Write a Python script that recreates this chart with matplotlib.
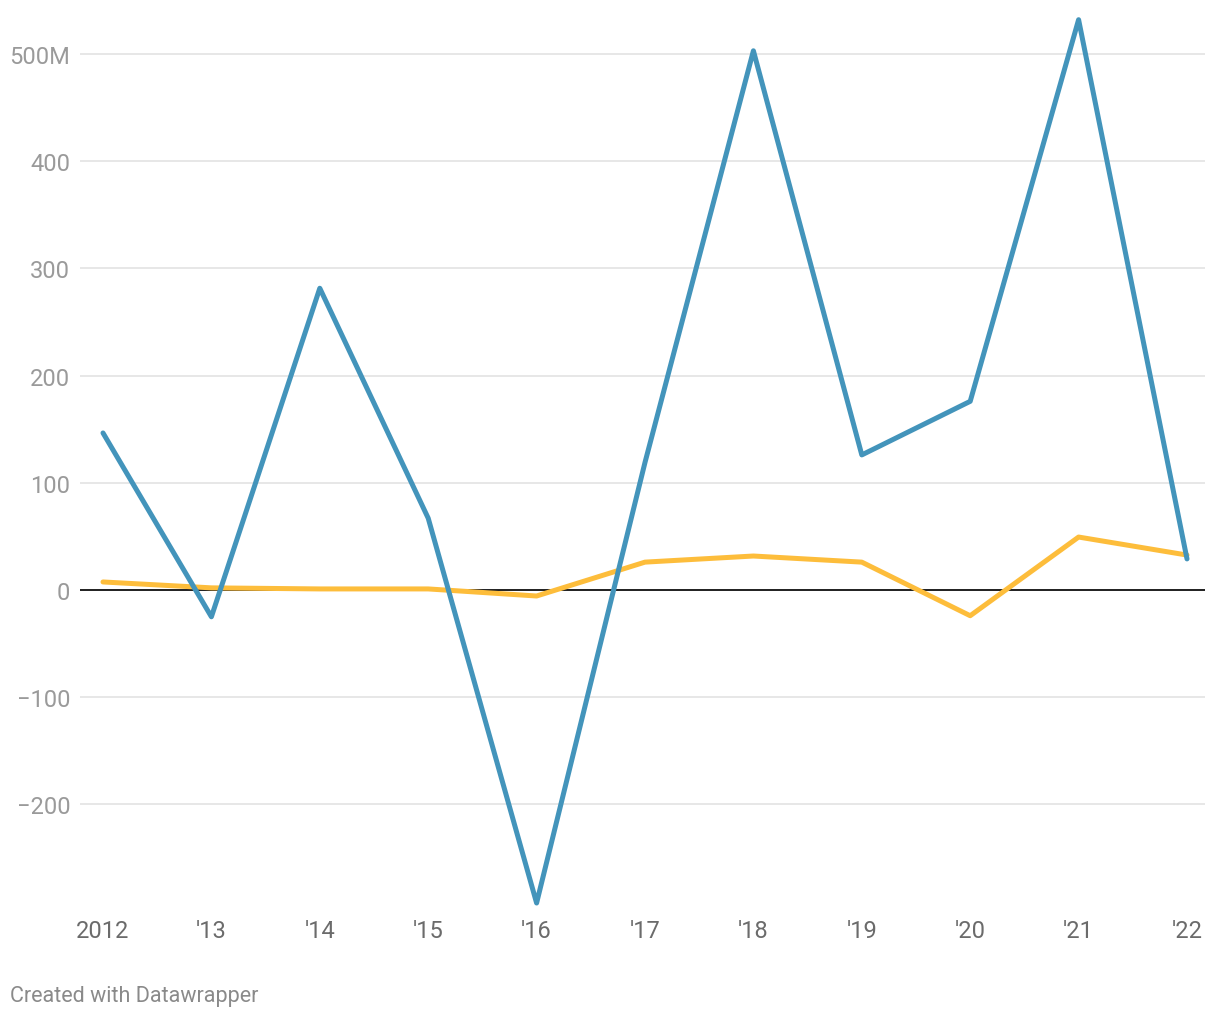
import matplotlib
matplotlib.use("Agg")
import matplotlib.pyplot as plt

years = [2012, 2013, 2014, 2015, 2016, 2017, 2018, 2019, 2020, 2021, 2022]
xlabels = ["2012", "'13", "'14", "'15", "'16", "'17", "'18", "'19", "'20", "'21", "'22"]
blue = [146.5, -25, 281.5, 67, -292, 119, 503, 126, 176, 532, 29]
yellow = [7.5, 2, 1, 1, -5.6, 26, 31.7, 26, -24, 49.4, 32.6]
yticks = [-200, -100, 0, 100, 200, 300, 400, 500]
ylabels = ["\u2212200", "\u2212100", "0", "100", "200", "300", "400", "500M"]

plt.rcParams["font.family"] = ["Roboto", "DejaVu Sans"]
W, H = 1220, 1020
fig = plt.figure(figsize=(W / 100, H / 100), dpi=100)
left, right, top, bottom = 80, 1205, 15, 910
ax = fig.add_axes([left / W, (H - bottom) / H, (right - left) / W, (bottom - top) / H])

ax.set_xlim(2012 - 23 / 108.4, 2022 + 18 / 108.4)
ax.set_ylim(-(bottom - 591) / 1.072, (591 - top) / 1.072)

ax.plot(years, yellow, color="#fdbd3b", lw=3.6, solid_capstyle="round", solid_joinstyle="round", zorder=3)
ax.plot(years, blue, color="#4394bb", lw=3.6, solid_capstyle="round", solid_joinstyle="round", zorder=4)
ax.axhline(0, color="#111111", lw=1.3, zorder=2)

ax.set_yticks(yticks)
ax.set_yticklabels(ylabels)
ax.set_xticks(years)
ax.set_xticklabels(xlabels)
ax.grid(axis="y", color="#e3e3e3", lw=1.2, zorder=0)
ax.grid(axis="x", visible=False)
ax.tick_params(axis="y", length=0, pad=7, labelsize=17, labelcolor="#9a9a9a")
ax.tick_params(axis="x", length=0, pad=7, labelsize=17, labelcolor="#6b6b6b")
for s in ax.spines.values():
    s.set_visible(False)

fig.text(10 / W, 1 - 997 / H, "Created with Datawrapper", fontsize=15.5, color="#8a8a8a", va="center", ha="left")

fig.savefig("out.png", dpi=100, facecolor="white")
